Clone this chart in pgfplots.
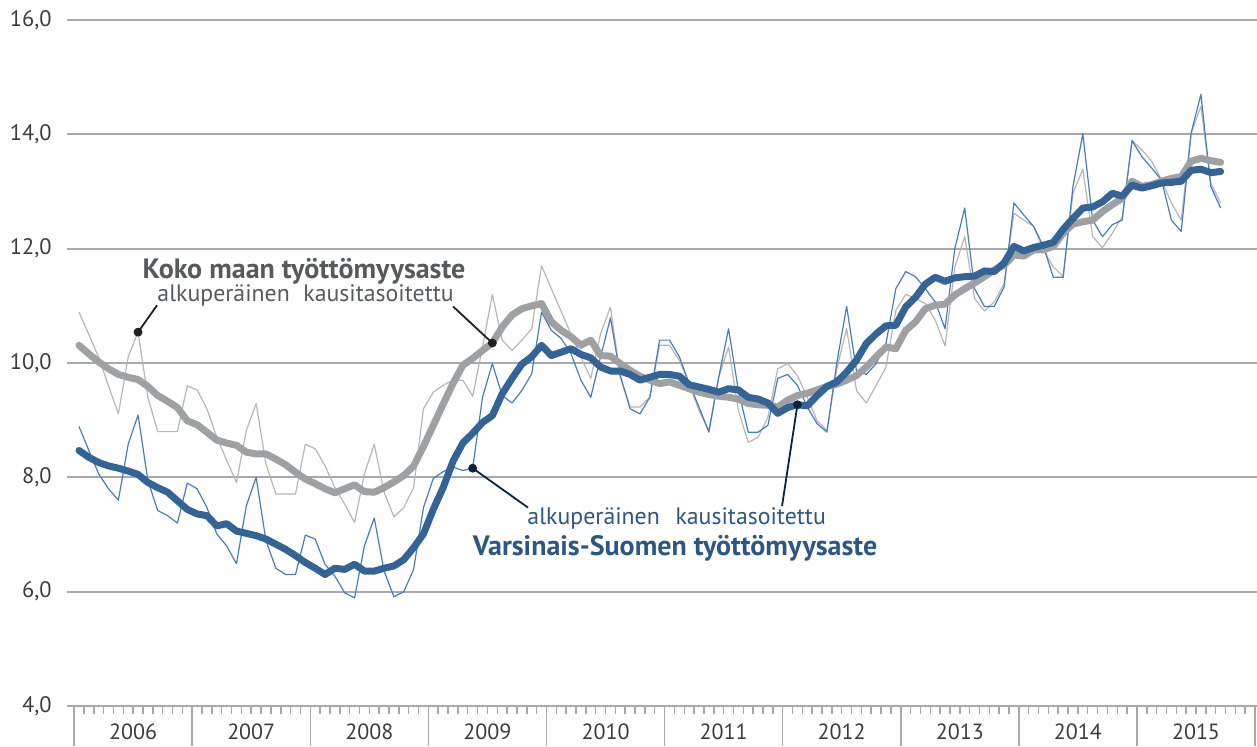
\documentclass[border=0pt]{standalone}
\usepackage{pgfplots}
\pgfplotsset{compat=1.18}
\usepackage{pgfplotstable}
\usepackage{fontspec}
\setmainfont{PT Sans}
\definecolor{thingray}{RGB}{182,182,182}
\definecolor{thickgray}{RGB}{158,160,161}
\definecolor{thinblue}{RGB}{72,124,192}
\definecolor{thickblue}{RGB}{52,100,150}
\definecolor{gridc}{RGB}{168,169,173}
\definecolor{labc}{RGB}{60,60,62}
\definecolor{graytxt}{RGB}{88,89,91}
\definecolor{bluetxt}{RGB}{44,86,134}
\definecolor{leadg}{RGB}{35,31,32}
\definecolor{leadb}{RGB}{12,35,64}

\pgfplotstableread{
i kg ks vg vs
0 10.89 10.31 8.89 8.47
1 10.5 10.16 8.47 8.35
2 10.1 10.02 8.06 8.26
3 9.6 9.90 7.80 8.20
4 9.11 9.80 7.60 8.16
5 10.11 9.75 8.58 8.11
6 10.54 9.71 9.09 8.05
7 9.40 9.59 7.94 7.91
8 8.80 9.43 7.42 7.82
9 8.80 9.33 7.33 7.74
10 8.80 9.22 7.20 7.59
11 9.60 8.99 7.90 7.44
12 9.53 8.92 7.80 7.36
13 9.2 8.79 7.47 7.33
14 8.7 8.65 7.01 7.15
15 8.3 8.60 6.80 7.19
16 7.91 8.56 6.49 7.06
17 8.82 8.44 7.50 7.02
18 9.29 8.41 8.00 6.98
19 8.23 8.41 6.89 6.92
20 7.71 8.32 6.41 6.83
21 7.71 8.22 6.30 6.74
22 7.71 8.09 6.30 6.63
23 8.58 7.97 6.99 6.51
24 8.50 7.89 6.92 6.41
25 8.2 7.80 6.48 6.30
26 7.82 7.73 6.27 6.41
27 7.53 7.80 5.98 6.39
28 7.21 7.87 5.89 6.48
29 8.06 7.75 6.80 6.36
30 8.58 7.74 7.29 6.36
31 7.74 7.82 6.36 6.41
32 7.31 7.92 5.91 6.45
33 7.47 8.03 6.00 6.56
34 7.82 8.20 6.39 6.77
35 9.20 8.54 7.47 7.01
36 9.49 8.91 7.98 7.44
37 9.61 9.28 8.10 7.82
38 9.70 9.64 8.18 8.28
39 9.70 9.96 8.12 8.60
40 9.42 10.08 8.16 8.77
41 10.28 10.22 9.40 8.96
42 11.20 10.35 9.99 9.08
43 10.40 10.63 9.43 9.46
44 10.22 10.84 9.30 9.73
45 10.40 10.95 9.52 9.98
46 10.60 11.00 9.81 10.11
47 11.70 11.04 10.89 10.31
48 11.3 10.72 10.57 10.13
49 10.9 10.57 10.43 10.19
50 10.5 10.46 10.16 10.25
51 10.1 10.31 9.70 10.15
52 9.73 10.40 9.40 10.09
53 10.51 10.13 10.11 9.93
54 10.98 10.12 10.79 9.86
55 9.75 9.99 9.78 9.86
56 9.23 9.87 9.20 9.80
57 9.23 9.77 9.11 9.70
58 9.40 9.70 9.40 9.75
59 10.31 9.64 10.40 9.80
60 10.31 9.67 10.40 9.80
61 10.05 9.61 10.11 9.77
62 9.64 9.55 9.64 9.62
63 9.17 9.49 9.23 9.58
64 8.82 9.45 8.79 9.54
65 9.75 9.42 9.75 9.49
66 10.28 9.40 10.60 9.55
67 9.17 9.37 9.52 9.53
68 8.61 9.29 8.79 9.40
69 8.70 9.27 8.79 9.37
70 9.05 9.26 8.91 9.30
71 9.90 9.23 9.73 9.12
72 9.99 9.35 9.80 9.22
73 9.78 9.43 9.61 9.27
74 9.40 9.47 9.23 9.25
75 8.99 9.53 8.94 9.43
76 8.82 9.59 8.79 9.59
77 9.9 9.63 10.0 9.67
78 10.60 9.70 10.99 9.84
79 9.52 9.78 9.87 10.05
80 9.30 9.93 9.80 10.34
81 9.61 10.11 9.99 10.51
82 9.93 10.28 10.34 10.65
83 10.92 10.25 11.30 10.66
84 11.20 10.57 11.60 10.98
85 11.13 10.72 11.51 11.15
86 11.04 10.95 11.30 11.38
87 10.75 11.01 11.07 11.50
88 10.30 11.03 10.60 11.43
89 11.68 11.19 12.01 11.49
90 12.21 11.30 12.71 11.51
91 11.13 11.40 11.30 11.52
92 10.91 11.51 10.99 11.61
93 11.07 11.63 10.99 11.60
94 11.39 11.71 11.33 11.75
95 12.62 11.89 12.80 12.04
96 12.50 11.87 12.59 11.96
97 12.39 11.98 12.39 12.02
98 11.98 11.98 12.04 12.06
99 11.68 12.04 11.50 12.11
100 11.51 12.27 11.50 12.34
101 12.97 12.43 13.09 12.53
102 13.39 12.47 14.01 12.71
103 12.21 12.50 12.50 12.73
104 12.02 12.65 12.21 12.82
105 12.27 12.77 12.42 12.97
106 12.56 12.88 12.50 12.92
107 13.89 13.18 13.89 13.11
108 13.73 13.09 13.61 13.06
109 13.53 13.12 13.41 13.10
110 13.20 13.18 13.20 13.15
111 12.80 13.23 12.50 13.16
112 12.50 13.26 12.30 13.18
113 14.02 13.53 14.02 13.37
114 14.49 13.58 14.70 13.39
115 13.15 13.54 13.09 13.33
116 12.80 13.51 12.71 13.35
}\data

\begin{document}
\begin{tikzpicture}
\begin{axis}[
  name=ax,
  scale only axis,
  width=594.75pt, height=343pt,
  xmin=-1.17, xmax=119.7,
  ymin=4, ymax=16,
  clip=false,
  axis line style={draw=none},
  ytick={4,6,...,16},
  ymajorgrids,
  grid style={line width=1pt, color=gridc},
  ytick style={draw=none},
  yticklabel style={/pgf/number format/.cd, fixed, fixed zerofill, precision=1, use comma, assume math mode=true,
     /tikz/.cd, anchor=east, inner sep=0pt, xshift=12.25pt, text=labc, font=\fontsize{11.2}{13}\selectfont},
  xtick={-0.5,11.5,...,119.5},
  xticklabels={},
  minor xtick={0.5,1.5,...,118.5},
  xtick pos=left,
  tick align=outside,
  major tick length=20pt,
  minor tick length=4pt,
  xtick style={color=gridc, line width=0.75pt},
  extra x ticks={5.5,17.5,...,113.5},
  extra x tick labels={2006,2007,2008,2009,2010,2011,2012,2013,2014,2015},
  extra x tick style={major tick length=0pt, xtick style={draw=none},
     xticklabel style={anchor=north, inner sep=0pt, yshift=-8.5pt, text=labc, font=\fontsize{11}{13}\selectfont}},
]
\addplot[thingray, line width=0.6pt, line join=round] table[x=i,y=kg]{\data};
\addplot[thinblue, line width=0.6pt, line join=round] table[x=i,y=vg]{\data};
\addplot[thickgray, line width=3.5pt, line join=round, line cap=round] table[x=i,y=ks]{\data};
\addplot[thickblue, line width=3.5pt, line join=round, line cap=round] table[x=i,y=vs]{\data};

% leader lines and dots
\addplot[leadg, line width=0.9pt] coordinates {(6,10.54) (7.93,11.01)};
\addplot[leadg, only marks, mark=*, mark size=2pt, mark options={fill=leadg, draw=leadg}] coordinates {(6,10.54)};
\addplot[leadg, line width=0.9pt] coordinates {(42,10.35) (38.0,10.99)};
\addplot[leadg, only marks, mark=*, mark size=2pt, mark options={fill=leadg, draw=leadg}] coordinates {(42,10.35)};
\addplot[leadb, line width=0.9pt] coordinates {(40,8.16) (45.63,7.47)};
\addplot[leadb, only marks, mark=*, mark size=2pt, mark options={fill=leadb, draw=leadb}] coordinates {(40,8.16)};
\addplot[leadb, line width=0.9pt] coordinates {(73,9.27) (71.44,7.50)};
\addplot[leadb, only marks, mark=*, mark size=2pt, mark options={fill=leadb, draw=leadb}] coordinates {(73,9.27)};

% texts
\node[anchor=base, inner sep=0pt, text=graytxt, font=\fontsize{14}{16}\selectfont\bfseries] at (axis cs:22.87,11.47) {Koko maan työttömyysaste};
\node[anchor=base west, inner sep=0pt, text=graytxt, font=\fontsize{11.9}{14}\selectfont] at (axis cs:7.93,11.08) {alkuperäinen};
\node[anchor=base west, inner sep=0pt, text=graytxt, font=\fontsize{11.9}{14}\selectfont] at (axis cs:22.76,11.08) {kausitasoitettu};
\node[anchor=base west, inner sep=0pt, text=bluetxt, font=\fontsize{11.9}{14}\selectfont] at (axis cs:45.53,7.17) {alkuperäinen};
\node[anchor=base west, inner sep=0pt, text=bluetxt, font=\fontsize{11.9}{14}\selectfont] at (axis cs:60.57,7.17) {kausitasoitettu};
\node[anchor=base, inner sep=0pt, text=bluetxt, font=\fontsize{14}{16}\selectfont\bfseries] at (axis cs:60.57,6.64) {Varsinais-Suomen työttömyysaste};
\end{axis}
\pgfresetboundingbox
\path ([xshift=-33.75pt,yshift=-20pt]ax.south west) rectangle ([yshift=10pt]ax.north east);
\end{tikzpicture}
\end{document}
